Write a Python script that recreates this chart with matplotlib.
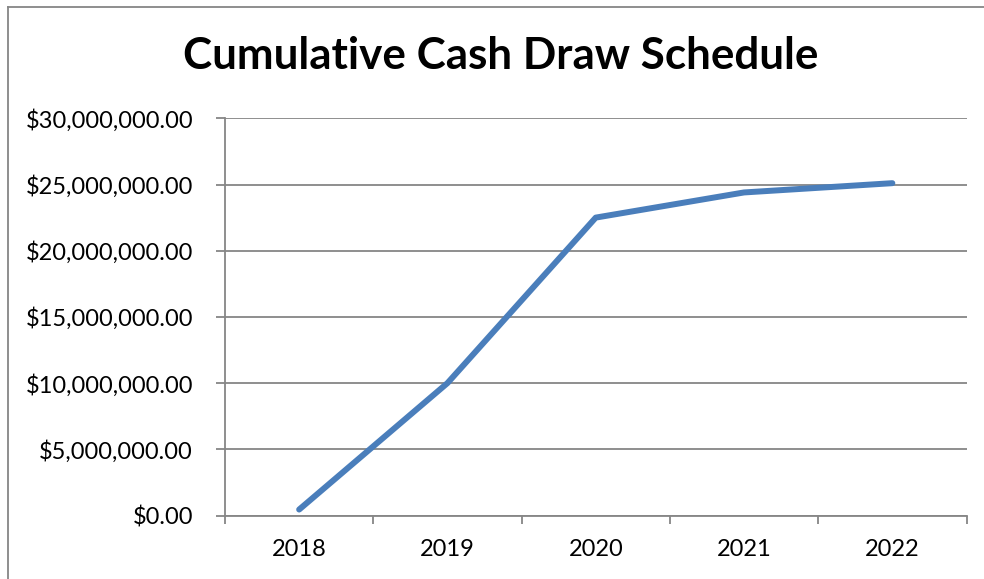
import matplotlib
matplotlib.use("Agg")
import matplotlib.pyplot as plt
from matplotlib.ticker import FuncFormatter, FixedLocator
from matplotlib.lines import Line2D

plt.rcParams['font.family'] = ['Lato', 'DejaVu Sans']

years = ["2018", "2019", "2020", "2021", "2022"]
cumulative_draw = [450000, 10000000, 22500000, 24400000, 25100000]
y_ticks = [0, 5000000, 10000000, 15000000, 20000000, 25000000, 30000000]

GRID = "#868686"
LINE = "#4a7ebb"

fig = plt.figure(figsize=(9.84, 5.79), dpi=100)

# outer chart frame (left and top edges)
fx = 7.5 / 984
fy = 1 - 6.5 / 579
fig.lines.append(Line2D([fx, fx], [0, fy], transform=fig.transFigure,
                        color=GRID, linewidth=1.3))
fig.lines.append(Line2D([fx, 1], [fy, fy], transform=fig.transFigure,
                        color=GRID, linewidth=1.3))

ax = fig.add_axes([225 / 984, 1 - 515.5 / 579, (966.5 - 225) / 984, (515.5 - 118.3) / 579])

xs = list(range(len(years)))
ax.plot(xs, cumulative_draw, color=LINE, linewidth=4.3, solid_capstyle='round',
        solid_joinstyle='round', zorder=3)

ax.set_xlim(-0.5, len(years) - 0.5)
ax.set_ylim(0, 30000000)

ax.yaxis.set_major_locator(FixedLocator(y_ticks))
ax.yaxis.set_major_formatter(FuncFormatter(lambda v, p: "${:,.2f}".format(v)))
ax.grid(axis='y', color=GRID, linewidth=1.3)
ax.set_axisbelow(True)

ax.xaxis.set_major_locator(FixedLocator([i - 0.5 for i in range(len(years) + 1)]))
ax.xaxis.set_major_formatter(FuncFormatter(lambda v, p: ""))
ax.set_xticks(xs, minor=True)
ax.set_xticklabels(years, minor=True)

ax.tick_params(axis='y', length=6.5, width=1.3, color=GRID, pad=16.5,
               labelsize=17, labelcolor='black')
ax.tick_params(axis='x', which='major', length=6, width=1.3, color=GRID)
ax.tick_params(axis='x', which='minor', length=0, pad=17, labelsize=17,
               labelcolor='black')

for s in ('top', 'right'):
    ax.spines[s].set_visible(False)
for s in ('left', 'bottom'):
    ax.spines[s].set_color(GRID)
    ax.spines[s].set_linewidth(1.3)

fig.text(501 / 984, 1 - 56 / 579, "Cumulative Cash Draw Schedule",
         ha='center', va='center', fontsize=31.7, fontweight='bold', color='black')

fig.savefig("out.png", dpi=100, facecolor='white')
